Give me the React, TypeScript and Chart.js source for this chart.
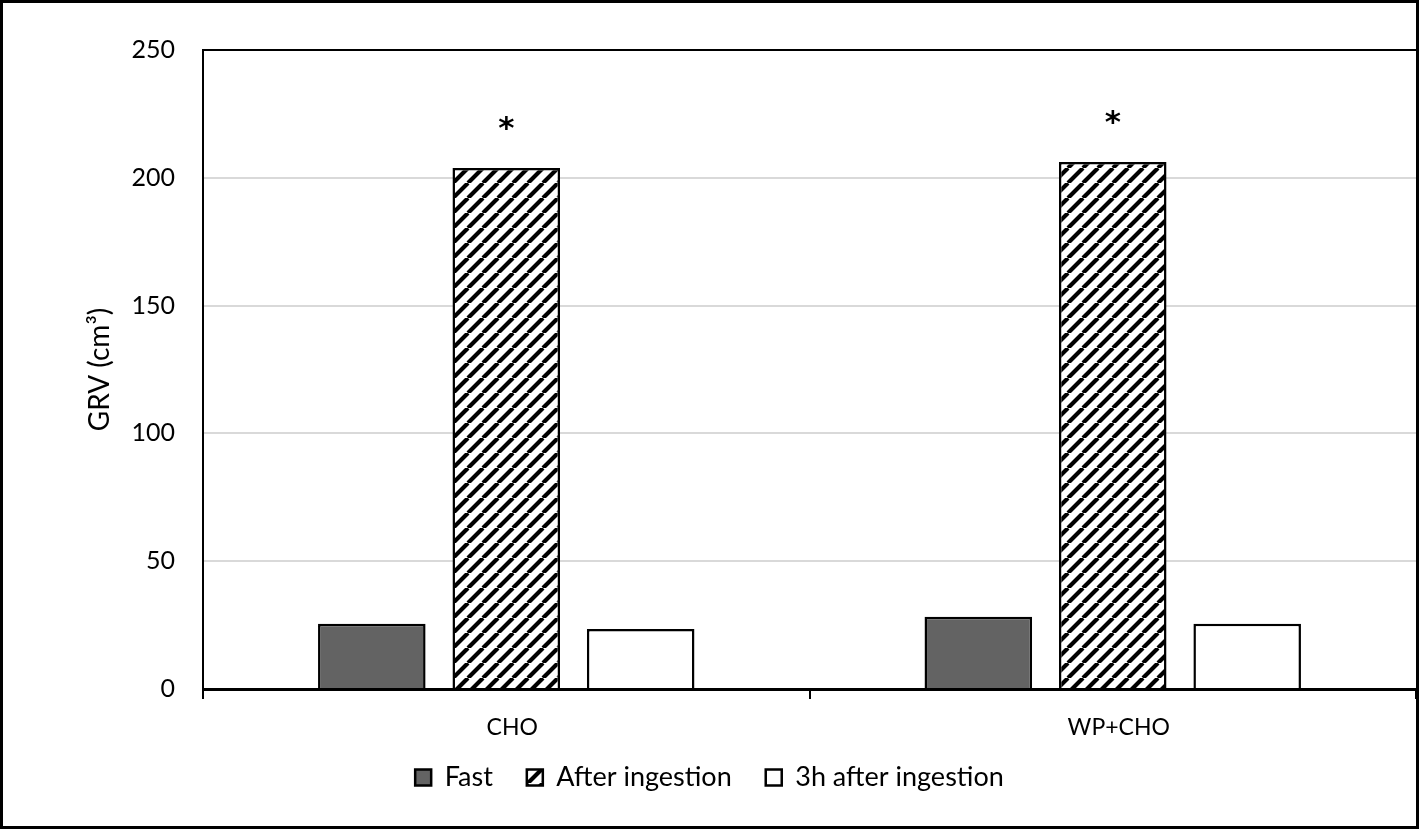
import React, { useEffect, useRef } from "react";
import { Chart, registerables } from "chart.js";

Chart.register(...registerables);

const categories = ["CHO", "WP+CHO"];
const seriesNames = ["Fast", "After ingestion", "3h after ingestion"];
const fastValues = [25.5, 28.3];
const afterValues = [203.8, 206.2];
const threeHourValues = [23.5, 25.5];
const significance = ["*", "*"];
const yTicks = [0, 50, 100, 150, 200, 250];

const FONT = "Lato";
const B = 3;
const W = 1419;
const H = 829;

function makeHatch(): CanvasPattern | string {
  const s = 15;
  const c = document.createElement("canvas");
  c.width = s;
  c.height = s;
  const g = c.getContext("2d");
  if (!g) return "#fff";
  g.fillStyle = "#fff";
  g.fillRect(0, 0, s, s);
  g.strokeStyle = "#000";
  g.lineWidth = 4.2;
  g.beginPath();
  for (const o of [-s, 0, s]) {
    g.moveTo(o, s);
    g.lineTo(o + s, 0);
  }
  g.stroke();
  return g.createPattern(c, "repeat") || "#fff";
}

const frameAndMarks = {
  id: "frameAndMarks",
  beforeDraw(chart: any) {
    const x = chart.scales.x;
    if (x) x._computeLabelArea = () => undefined;
  },
  afterDatasetsDraw(chart: any) {
    const { ctx, chartArea } = chart;
    ctx.save();
    ctx.strokeStyle = "#000";
    ctx.lineWidth = 2;
    ctx.beginPath();
    ctx.moveTo(chartArea.left, chartArea.top);
    ctx.lineTo(chartArea.right, chartArea.top);
    ctx.stroke();
    const meta = chart.getDatasetMeta(1);
    ctx.fillStyle = "#000";
    ctx.font = `bold 31px "DejaVu Sans"`;
    ctx.textAlign = "center";
    ctx.textBaseline = "middle";
    meta.data.forEach((bar: any, i: number) => {
      const mark = significance[i];
      if (mark) ctx.fillText(mark, bar.x, bar.y - 38);
    });
    ctx.restore();
  },
};

export default function App() {
  const ref = useRef<HTMLCanvasElement | null>(null);

  useEffect(() => {
    document.body.style.margin = "0";
    if (!ref.current) return;
    const hatch = makeHatch();
    const common = {
      borderColor: "#000",
      borderWidth: 2.5,
      categoryPercentage: 0.665,
      barPercentage: 0.8,
    };
    const chart = new Chart(ref.current, {
      type: "bar",
      data: {
        labels: categories,
        datasets: [
          { label: seriesNames[0], data: fastValues, backgroundColor: "#636363", ...common },
          { label: seriesNames[1], data: afterValues, backgroundColor: hatch as any, ...common },
          { label: seriesNames[2], data: threeHourValues, backgroundColor: "#ffffff", ...common },
        ],
      },
      options: {
        animation: false,
        responsive: false,
        events: [],
        layout: { padding: { top: 47, left: 0, right: 0, bottom: 25 } },
        plugins: {
          tooltip: { enabled: false },
          legend: {
            position: "bottom",
            labels: {
              boxWidth: 16,
              boxHeight: 16,
              padding: 34,
              color: "#000",
              font: { family: FONT, size: 27 },
            },
          },
        },
        scales: {
          x: {
            afterFit: (s: any) => {
              s.height = 41;
            },
            border: { display: true, color: "#000", width: 3 },
            grid: {
              display: true,
              drawOnChartArea: false,
              drawTicks: true,
              tickLength: 10,
              color: "#000",
              lineWidth: 2,
            },
            ticks: {
              color: "#000",
              padding: 15,
              labelOffset: 6,
              font: { family: FONT, size: 23 },
            },
          },
          y: {
            min: 0,
            max: 250,
            afterFit: (s: any) => {
              s.width = 200;
            },
            afterBuildTicks: (s: any) => {
              s.ticks = yTicks.map((v) => ({ value: v }));
            },
            border: { display: true, color: "#000", width: 2 },
            grid: { color: "#d9d9d9", lineWidth: 2, drawTicks: false },
            ticks: {
              color: "#000",
              padding: 28,
              font: { family: FONT, size: 25 },
            },
            title: {
              display: true,
              text: "GRV (cm³)",
              color: "#000",
              padding: { top: 80, bottom: 0 },
              font: { family: FONT, size: 28 },
            },
          },
        },
      },
      plugins: [frameAndMarks],
    });
    return () => chart.destroy();
  }, []);

  return (
    <div
      style={{
        width: W,
        height: H,
        boxSizing: "border-box",
        border: `${B}px solid #000`,
        background: "#fff",
      }}
    >
      <canvas ref={ref} width={W - 2 * B} height={H - 2 * B} style={{ display: "block" }} />
    </div>
  );
}
